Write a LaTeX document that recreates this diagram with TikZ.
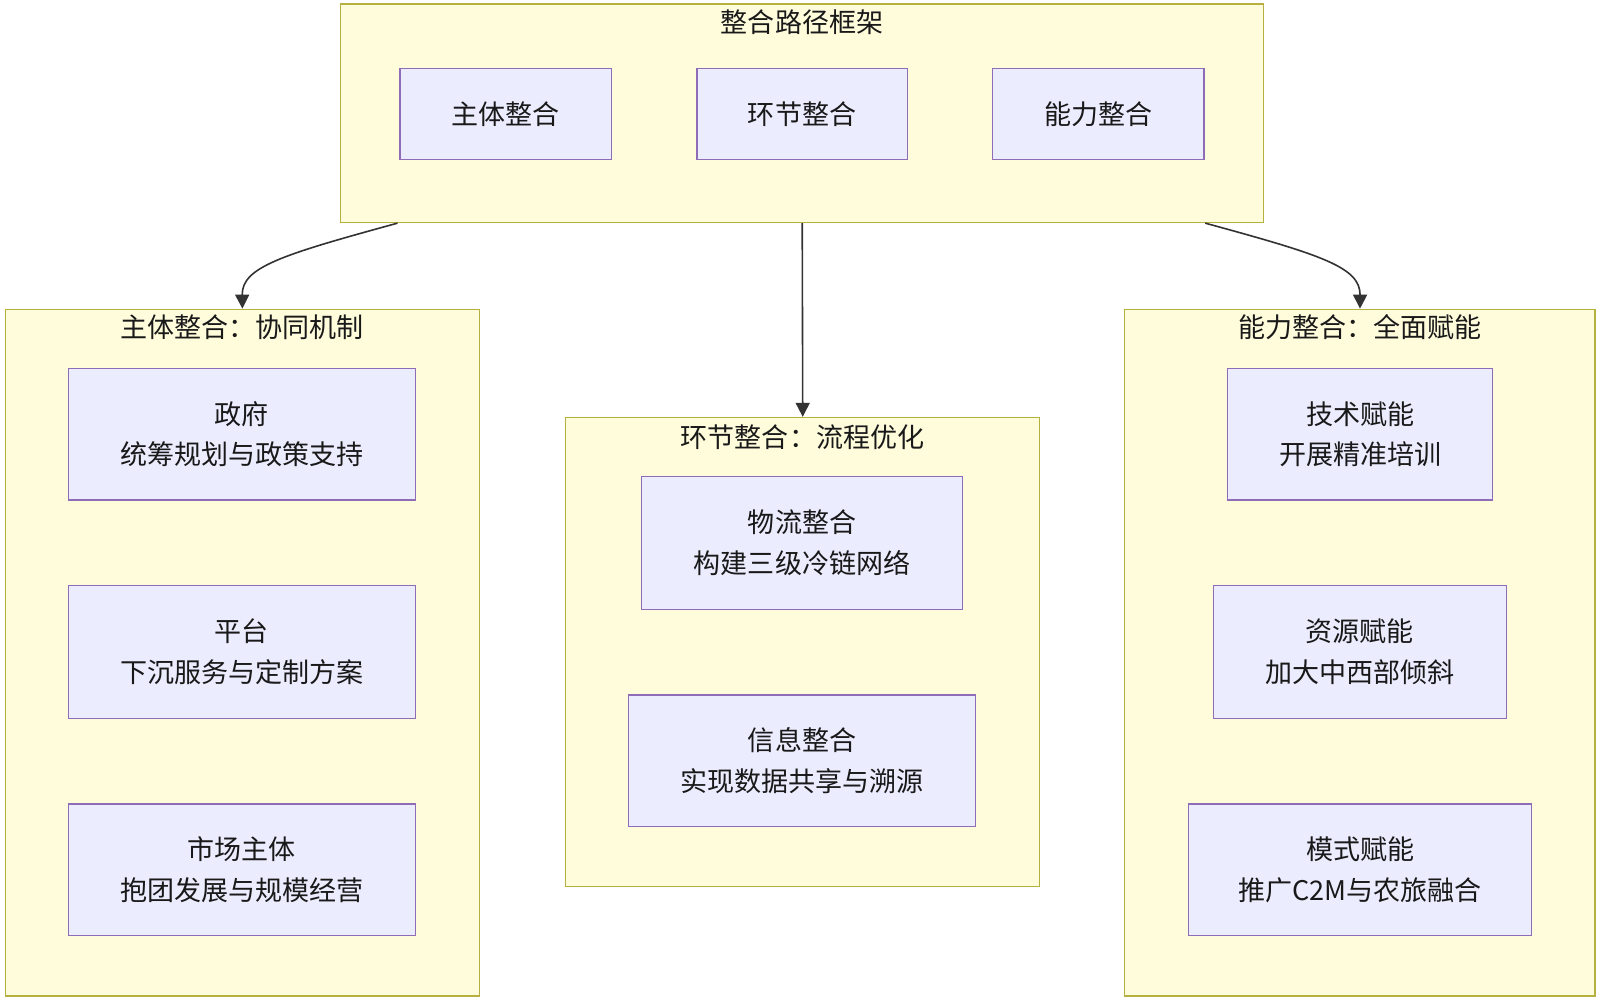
\documentclass[tikz,border=0pt]{standalone}
\usepackage{fontspec}
\setmainfont{Noto Sans CJK SC}
\usetikzlibrary{arrows.meta,calc}
\definecolor{contfill}{HTML}{FFFCDC}
\definecolor{contdraw}{HTML}{B5B040}
\definecolor{itemfill}{HTML}{ECECFF}
\definecolor{itemdraw}{HTML}{8E6CB8}
\definecolor{arrowc}{HTML}{333333}
\tikzset{
  cont/.style={draw=contdraw, fill=contfill, line width=1.2pt, inner sep=0pt},
  item/.style={draw=itemdraw, fill=itemfill, line width=1.2pt, inner sep=0pt, align=center, font=\fontsize{26.5}{40}\selectfont, text=black!90},
  ctitle/.style={inner sep=0pt, font=\fontsize{26.5}{30}\selectfont, text=black!90},
  conn/.style={draw=arrowc, line width=1.6pt, -{Triangle[width=14pt,length=14pt]}}
}
\begin{document}
\begin{tikzpicture}[x=1pt,y=-1pt,scale=1.0204,every node/.append style={transform shape}]
\useasboundingbox (0,0) rectangle (1568,981);
% containers
\node[cont, minimum width=904, minimum height=214] (top) at (786,111) {};
\node[ctitle] (toptitle) at (786,22) {整合路径框架};
\node[cont, minimum width=465, minimum height=673] (left) at (237.5,639.5) {};
\node[ctitle] (lefttitle) at (237.5,321) {主体整合：协同机制};
\node[cont, minimum width=465, minimum height=460] (mid) at (786.5,639) {};
\node[ctitle] (midtitle) at (786.5,428) {环节整合：流程优化};
\node[cont, minimum width=461, minimum height=673] (right) at (1332.5,639.5) {};
\node[ctitle] (righttitle) at (1332.5,321) {能力整合：全面赋能};
% top items
\node[item, minimum width=207, minimum height=89] (t1) at (495.5,111.5) {主体整合};
\node[item, minimum width=206, minimum height=89] (t2) at (786,111.5) {环节整合};
\node[item, minimum width=207, minimum height=89] (t3) at (1076.5,111.5) {能力整合};
% left items
\node[item, minimum width=340, minimum height=129] (l1) at (237,425.5) {政府\\统筹规划与政策支持};
\node[item, minimum width=340, minimum height=130] (l2) at (237,639) {平台\\下沉服务与定制方案};
\node[item, minimum width=340, minimum height=129] (l3) at (237,852.5) {市场主体\\抱团发展与规模经营};
% middle items
\node[item, minimum width=314, minimum height=130] (m1) at (786,532) {物流整合\\构建三级冷链网络};
\node[item, minimum width=340, minimum height=129] (m2) at (786,745.5) {信息整合\\实现数据共享与溯源};
% right items
\node[item, minimum width=260, minimum height=129] (r1) at (1333,425.5) {技术赋能\\开展精准培训};
\node[item, minimum width=287, minimum height=130] (r2) at (1332.5,639) {资源赋能\\加大中西部倾斜};
\node[item, minimum width=336, minimum height=129] (r3) at (1333,852.5) {模式赋能\\推广C2M与农旅融合};
% connectors
\coordinate (s1) at ($(top.south west)+(56,0)$);
\coordinate (s3) at ($(top.south east)+(-58,0)$);
\draw[conn] (s1) .. controls (275,250) and (237,262) .. (left.north);
\draw[conn] (top.south) -- (mid.north);
\draw[conn] (s3) .. controls (1296,250) and (1333,262) .. (right.north);
\end{tikzpicture}
\end{document}
